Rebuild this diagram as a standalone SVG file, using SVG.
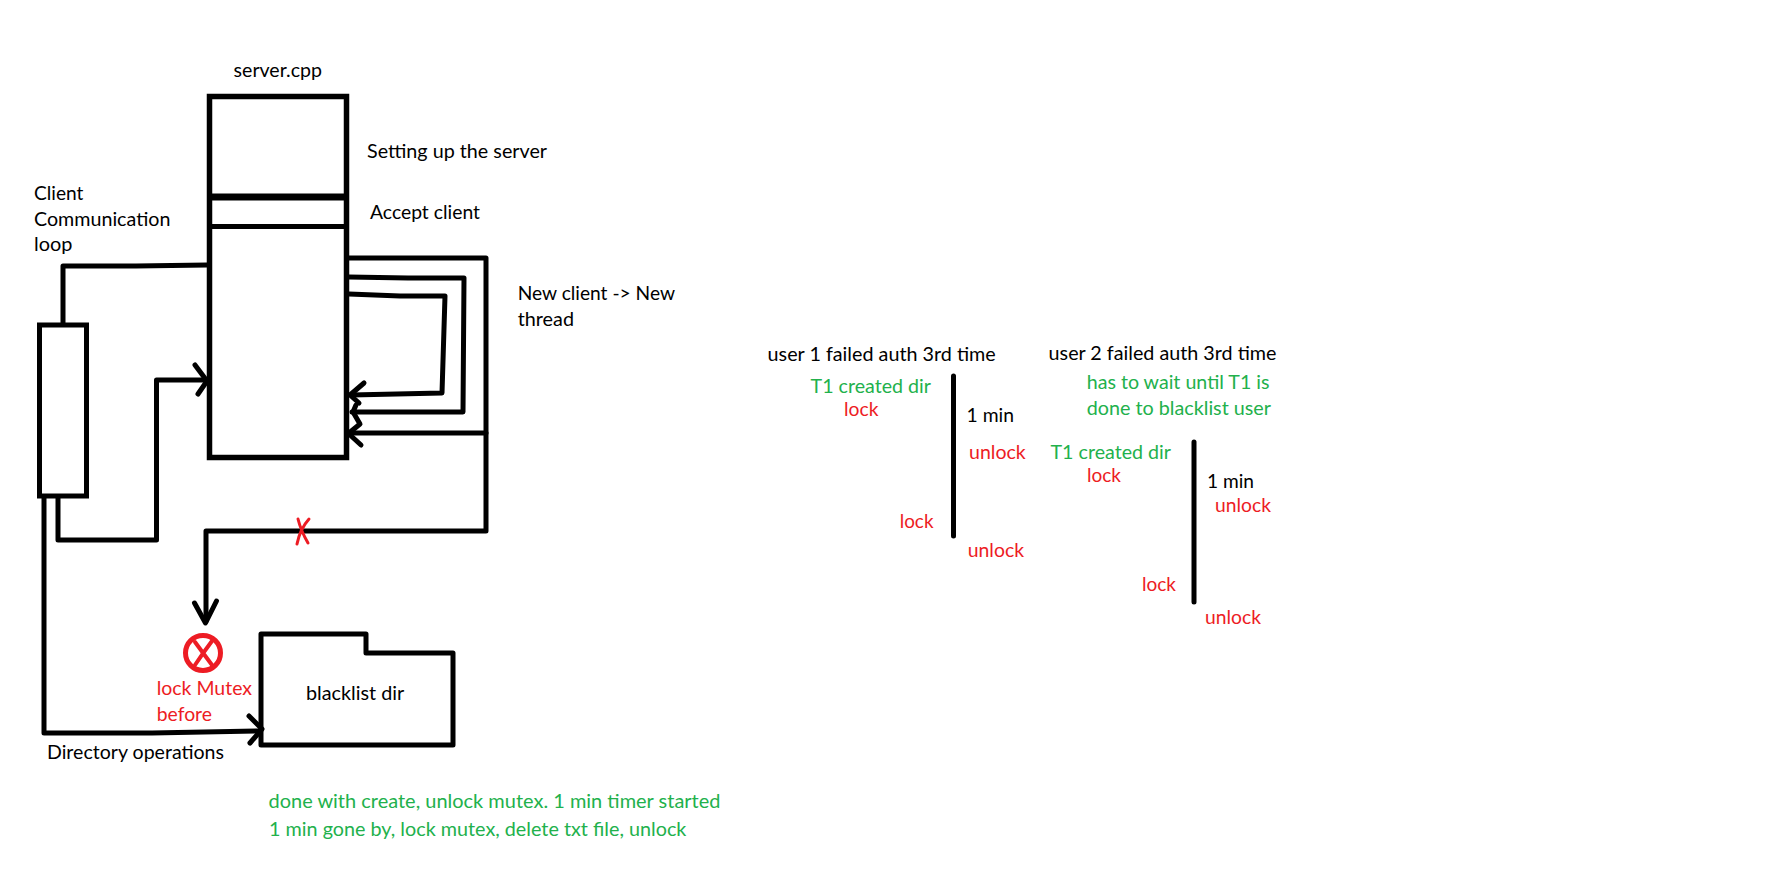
<svg xmlns="http://www.w3.org/2000/svg" width="1790" height="872" viewBox="0 0 1790 872">
<style>
text{font-family:"Lato","Open Sans","Liberation Sans",sans-serif;font-size:19.4px;fill:#000}
.r{fill:#ed1c24}
.g{fill:#22b14c}
.s{fill:none;stroke:#000;stroke-width:5;stroke-linejoin:miter}
.c{fill:none;stroke:#000;stroke-width:5;stroke-linejoin:round;stroke-linecap:round}
.a{fill:none;stroke:#000;stroke-width:5;stroke-linejoin:round;stroke-linecap:round}
.x{fill:none;stroke:#ed1c24;stroke-linecap:round}
</style>
<rect width="1790" height="872" fill="#fff"/>
<g id="server">
<rect class="s" x="209.500" y="96.500" width="137" height="361" style="stroke-width:5.500"/>
<path class="s" d="M209 197H347" style="stroke-width:7"/>
<path class="s" d="M209 226.500H347" style="stroke-width:5"/>
<text x="233.600" y="77" textLength="88.400" lengthAdjust="spacingAndGlyphs">server.cpp</text>
<text x="367" y="158" textLength="180" lengthAdjust="spacingAndGlyphs">Setting up the server</text>
<text x="370" y="218.500" textLength="110" lengthAdjust="spacingAndGlyphs">Accept client</text>
</g>
<g id="client-loop">
<rect class="s" x="39.500" y="325" width="47" height="171"/>
<text x="34" y="199.500" textLength="49.400" lengthAdjust="spacingAndGlyphs">Client</text>
<text x="34" y="225.500" textLength="136.400" lengthAdjust="spacingAndGlyphs">Communication</text>
<text x="34" y="251" textLength="38.400" lengthAdjust="spacingAndGlyphs">loop</text>
</g>
<g id="blacklist-dir">
<path class="c" d="M261 634H366V653H453V745H261Z"/>
<text x="306" y="700" textLength="98.300" lengthAdjust="spacingAndGlyphs">blacklist dir</text>
</g>
<g id="mutex-stop">
<circle cx="203" cy="653" r="17.500" fill="none" stroke="#ed1c24" stroke-width="5"/>
<path class="x" d="M195 642Q203 653 212 665M212 641Q203 653 195 665" stroke-width="4"/>
<text class="r" x="156.700" y="695" textLength="95.300" lengthAdjust="spacingAndGlyphs">lock Mutex</text>
<text class="r" x="156.700" y="721" textLength="55.300" lengthAdjust="spacingAndGlyphs">before</text>
</g>
<g id="connectors">
<path class="c" d="M63 324V266H136L207 265"/>
<path class="c" d="M58 498V540H156.500V380H206"/>
<path class="a" d="M195 365L207 381L198 394"/>
<path class="c" d="M44 498V733H152L259 731"/>
<path class="a" d="M249 716L262 729L250 743"/>
<path class="c" d="M349 258H486V433H351"/>
<path class="a" d="M361 445L349 434"/>
<path class="c" d="M486 433V531H206V621"/>
<path class="a" d="M194.500 603L205.500 623L216.500 601"/>
<path class="c" d="M349 277L408 278H464L463 412H352"/>
<path class="a" d="M356 405L353 412L360 424L349 433"/>
<path class="c" d="M349 294L400 296H445L442 393L351 395"/>
<path class="a" d="M364 383L350 395L359 403"/>
<path class="x" d="M298 519Q301 531 308 543M309 519Q300 529 297 544" stroke-width="3"/>
</g>
<g id="captions">
<text x="517.700" y="300" textLength="157.300" lengthAdjust="spacingAndGlyphs">New client -&gt; New</text>
<text x="517.700" y="326" textLength="56.300" lengthAdjust="spacingAndGlyphs">thread</text>
<text x="47" y="759" textLength="177" lengthAdjust="spacingAndGlyphs">Directory operations</text>
<text class="g" x="268.500" y="808" textLength="451.900" lengthAdjust="spacingAndGlyphs">done with create, unlock mutex. 1 min timer started</text>
<text class="g" x="269" y="836" textLength="417.400" lengthAdjust="spacingAndGlyphs">1 min gone by, lock mutex, delete txt file, unlock</text>
</g>
<g id="timeline-user1">
<path class="c" d="M953.500 376V536"/>
<text x="767.600" y="361" textLength="228.200" lengthAdjust="spacingAndGlyphs">user 1 failed auth 3rd time</text>
<text class="g" x="810.600" y="393" textLength="120.400" lengthAdjust="spacingAndGlyphs">T1 created dir</text>
<text class="r" x="844" y="416" textLength="34.500" lengthAdjust="spacingAndGlyphs">lock</text>
<text x="966.600" y="422" textLength="47.400" lengthAdjust="spacingAndGlyphs">1 min</text>
<text class="r" x="969" y="459" textLength="56.700" lengthAdjust="spacingAndGlyphs">unlock</text>
<text class="r" x="899.700" y="528" textLength="33.800" lengthAdjust="spacingAndGlyphs">lock</text>
<text class="r" x="967.700" y="557" textLength="56.300" lengthAdjust="spacingAndGlyphs">unlock</text>
</g>
<g id="timeline-user2">
<path class="c" d="M1194 442V602"/>
<text x="1048.600" y="360" textLength="227.900" lengthAdjust="spacingAndGlyphs">user 2 failed auth 3rd time</text>
<text class="g" x="1086.700" y="389" textLength="182.800" lengthAdjust="spacingAndGlyphs">has to wait until T1 is</text>
<text class="g" x="1086.700" y="415" textLength="184.300" lengthAdjust="spacingAndGlyphs">done to blacklist user</text>
<text class="g" x="1050.500" y="459" textLength="120.500" lengthAdjust="spacingAndGlyphs">T1 created dir</text>
<text class="r" x="1087" y="482" textLength="34" lengthAdjust="spacingAndGlyphs">lock</text>
<text x="1207" y="488" textLength="47" lengthAdjust="spacingAndGlyphs">1 min</text>
<text class="r" x="1215" y="512" textLength="56" lengthAdjust="spacingAndGlyphs">unlock</text>
<text class="r" x="1142" y="591" textLength="34" lengthAdjust="spacingAndGlyphs">lock</text>
<text class="r" x="1205" y="624" textLength="56" lengthAdjust="spacingAndGlyphs">unlock</text>
</g>
</svg>
